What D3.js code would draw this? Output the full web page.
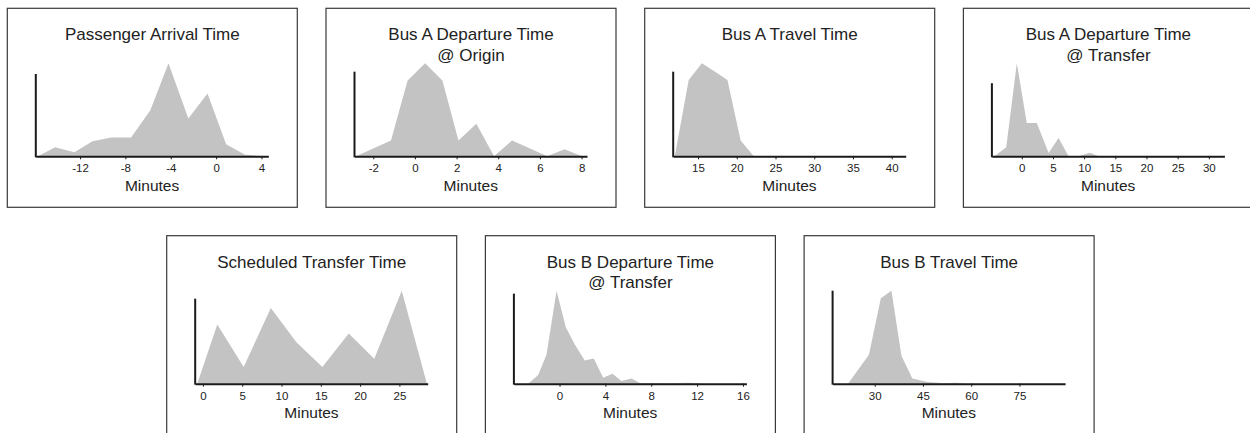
<!DOCTYPE html>
<html>
<head>
<meta charset="utf-8">
<script src="https://cdn.jsdelivr.net/npm/d3@7"></script>
<style>
  body { margin: 0; background: #fff; }
  svg text { font-family: "Liberation Sans", Arial, sans-serif; fill: #222; }
</style>
</head>
<body>
<svg id="chart"></svg>
<script>
// panel titles (one array per line)
const titles = [
    ["Passenger Arrival Time"],
    ["Bus A Departure Time", "@ Origin"],
    ["Bus A Travel Time"],
    ["Bus A Departure Time", "@ Transfer"],
    ["Scheduled Transfer Time"],
    ["Bus B Departure Time", "@ Transfer"],
    ["Bus B Travel Time"]
];

// minutes (x) and relative frequency, peak = 100 (y)
const arrivalX = [-15.7, -14.2, -12.5, -10.9, -9.25, -7.5, -5.8, -4.2, -2.45, -0.76, 0.88, 2.55, 4.17];
const arrivalY = [0, 9.7, 4.3, 16.2, 20.1, 20.1, 49.6, 100, 40.6, 67.6, 12.9, 1.8, 0];

const departOriginX = [-2.82, -1.98, -1.15, -0.35, 0.49, 1.32, 2.09, 2.95, 3.8, 4.66, 5.5, 6.35, 7.18, 8.02];
const departOriginY = [0, 8.6, 17.1, 81.4, 100, 81.4, 17.1, 35, 0, 17.1, 8.6, 0, 7.5, 0];

const travelAX = [12.0, 13.8, 15.5, 17.2, 18.8, 20.5, 22.2];
const travelAY = [0, 82.1, 100, 91, 82.1, 17.1, 0];

const departTransferAX = [-4.4, -2.5, -0.8, 0.8, 2.4, 4.3, 5.9, 7.5, 9.1, 10.9, 12.3];
const departTransferAY = [0, 9.6, 100, 35.7, 35.7, 3.6, 19.6, 0, 0, 3.9, 0];

const schedTransferX = [-0.72, 1.83, 5.19, 8.64, 11.9, 15.2, 18.55, 21.8, 25.3, 28.5];
const schedTransferY = [0, 63.6, 17.9, 81.4, 44.6, 17.9, 53.9, 26.8, 100, 0];

const departTransferBX = [-2.73, -1.86, -1.13, -0.26, 0.55, 1.33, 2.2, 2.99, 3.81, 4.62, 5.4, 6.28, 7.0, 7.9, 8.7, 9.5, 10.3, 11.2, 12.0, 12.8];
const departTransferBY = [0, 9.3, 31.4, 100, 60.8, 42.1, 25, 27.1, 6.4, 10.7, 2.9, 5.7, 0.7, 0.7, 0.7, 0.4, 0.7, 1, 0.6, 0];

const travelBX = [21.7, 28.2, 31.9, 35.2, 38.3, 41.7, 46.5, 51.5, 55.3, 58.5];
const travelBY = [0, 31.1, 91.9, 100, 30, 5.7, 1.8, 0.5, 1.1, 0];

// x-axis extent and ticks per panel
const xDomains = [[-15.9, 4.6], [-2.9, 8.26], [11.8, 41.8], [-4.8, 32.5], [-0.98, 28.6], [-3.98, 16.3], [16.9, 89.2]];
const xTicks = [
    [-12, -8, -4, 0, 4],
    [-2, 0, 2, 4, 6, 8],
    [15, 20, 25, 30, 35, 40],
    [0, 5, 10, 15, 20, 25, 30],
    [0, 5, 10, 15, 20, 25],
    [0, 4, 8, 12, 16],
    [30, 45, 60, 75]
];
// height reached by the y-axis line (same units as y)
const yAxisTops = [88.5, 91, 91, 78.6, 91.4, 96.8, 100];

const seriesX = [arrivalX, departOriginX, travelAX, departTransferAX, schedTransferX, departTransferBX, travelBX];
const seriesY = [arrivalY, departOriginY, travelAY, departTransferAY, schedTransferY, departTransferBY, travelBY];

const width = 1250, height = 433;
const panelW = 290, panelH = 199, step = 318.7;
const origins = [
    [7.3, 8.3], [7.3 + step, 8.3], [7.3 + 2 * step, 8.3], [7.3 + 3 * step, 8.3],
    [166.7, 235.7], [166.7 + step, 235.7], [166.7 + 2 * step, 235.7]
];
const plot = {left: 28.5, right: 261, base: 148, peak: 55};

const svg = d3.select("#chart").attr("width", width).attr("height", height);

const y = d3.scaleLinear().domain([0, 100]).range([plot.base, plot.peak]);

titles.forEach((title, i) => {
    const g = svg.append("g").attr("transform", `translate(${origins[i][0]},${origins[i][1]})`);

    g.append("rect")
        .attr("width", panelW).attr("height", panelH)
        .attr("fill", "none").attr("stroke", "#3a3a3a").attr("stroke-width", 1.2);

    const x = d3.scaleLinear().domain(xDomains[i]).range([plot.left, plot.right]);
    const pts = seriesX[i].map((v, j) => [v, seriesY[i][j]]);

    const area = d3.area()
        .x(d => x(d[0]))
        .y0(y(0))
        .y1(d => y(d[1]));

    g.append("path")
        .datum(pts)
        .attr("fill", "#c3c3c3")
        .attr("d", area);

    const xAxis = g.append("g")
        .attr("transform", `translate(0,${plot.base})`)
        .call(d3.axisBottom(x).tickValues(xTicks[i]).tickSize(3).tickSizeOuter(0).tickPadding(5)
            .tickFormat(d => String(d)));
    xAxis.select(".domain").attr("stroke", "#1a1a1a").attr("stroke-width", 2);
    xAxis.selectAll(".tick line").attr("stroke", "#1a1a1a");
    xAxis.selectAll(".tick text").attr("font-size", 11.5).attr("fill", "#222")
        .attr("font-family", "Liberation Sans, Arial, sans-serif");

    g.append("line")
        .attr("x1", plot.left).attr("x2", plot.left)
        .attr("y1", y(0) + 1).attr("y2", y(yAxisTops[i]))
        .attr("stroke", "#1a1a1a").attr("stroke-width", 2);

    title.forEach((line, k) => {
        g.append("text")
            .attr("x", panelW / 2).attr("y", 32 + k * 20.5)
            .attr("text-anchor", "middle")
            .attr("font-size", 17)
            .text(line);
    });

    g.append("text")
        .attr("x", (plot.left + plot.right) / 2).attr("y", 182.5)
        .attr("text-anchor", "middle")
        .attr("font-size", 15.5)
        .text("Minutes");
});
</script>
</body>
</html>
